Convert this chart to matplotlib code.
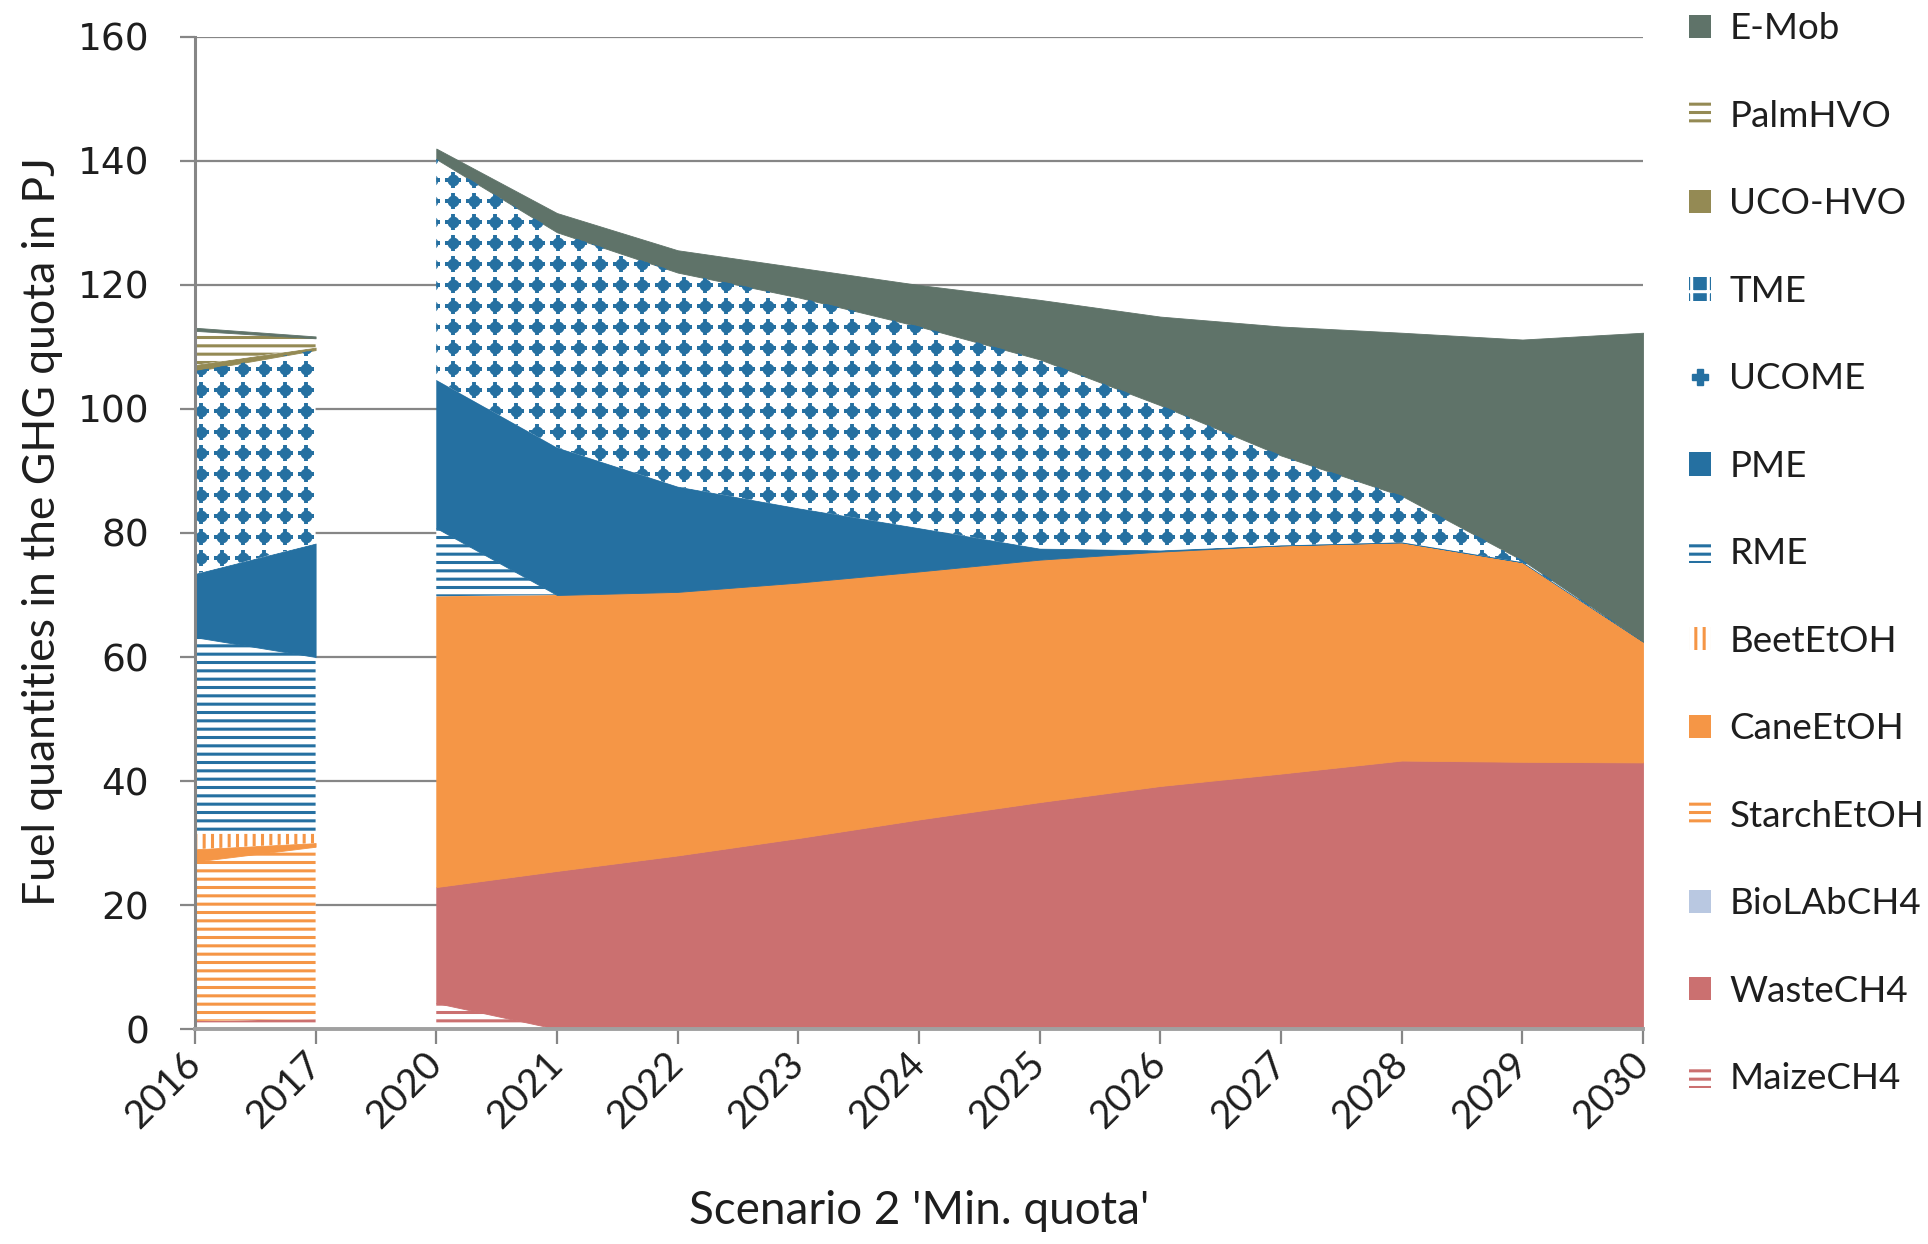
import numpy as np
import matplotlib.pyplot as plt
from matplotlib.patches import Patch
from matplotlib.lines import Line2D

# Categories (gap between 2017 and 2020 is left empty)
years = ['2016', '2017', '2020', '2021', '2022', '2023', '2024',
         '2025', '2026', '2027', '2028', '2029', '2030']
segments = [[0, 1], [2, 3, 4, 5, 6, 7, 8, 9, 10, 11, 12]]

# Fuel quantities in PJ, stacked bottom -> top
maize_ch4 = [1.3, 1.6, 4.2, 0, 0, 0, 0, 0, 0, 0, 0, 0, 0]
waste_ch4 = [0, 0, 18.7, 25.5, 28.0, 30.8, 33.8, 36.6, 39.2, 41.2, 43.3, 43.1, 43.0]
biolab_ch4 = [0, 0, 0, 0, 0, 0, 0, 0, 0, 0, 0, 0, 0]
starch_etoh = [25.7, 27.8, 0, 0, 0, 0, 0, 0, 0, 0, 0, 0, 0]
cane_etoh = [2.0, 0.6, 46.9, 44.5, 42.5, 41.2, 40.0, 39.1, 37.8, 36.8, 35.2, 32.2, 19.5]
beet_etoh = [2.5, 1.5, 0, 0, 0, 0, 0, 0, 0, 0, 0, 0, 0]
rme = [31.7, 28.5, 11.0, 0, 0, 0, 0, 0, 0, 0, 0, 0, 0]
pme = [10.2, 18.3, 23.9, 23.8, 17.0, 12.0, 7.0, 1.8, 0.2, 0, 0, 0, 0]
ucome = [32.7, 31.2, 35.6, 34.7, 34.5, 34.0, 32.5, 30.5, 23.4, 14.5, 7.5, 0.3, 0]
tme = [0, 0, 0, 0, 0, 0, 0, 0, 0, 0, 0, 0, 0]
uco_hvo = [1.0, 0.4, 0, 0, 0, 0, 0, 0, 0, 0, 0, 0, 0]
palm_hvo = [5.5, 1.5, 0, 0, 0, 0, 0, 0, 0, 0, 0, 0, 0]
e_mob = [0.5, 0.3, 1.7, 3.1, 3.6, 4.8, 6.7, 9.6, 14.3, 20.8, 26.3, 35.6, 49.8]

layers = [('MaizeCH4', maize_ch4), ('WasteCH4', waste_ch4),
          ('BioLAbCH4', biolab_ch4), ('StarchEtOH', starch_etoh),
          ('CaneEtOH', cane_etoh), ('BeetEtOH', beet_etoh),
          ('RME', rme), ('PME', pme), ('UCOME', ucome), ('TME', tme),
          ('UCO-HVO', uco_hvo), ('PalmHVO', palm_hvo), ('E-Mob', e_mob)]

blue = '#2570A1'
orange = '#F59646'
olive = '#948A54'
red = '#CB7070'
styles = {
    'MaizeCH4': (red, '--'),
    'WasteCH4': (red, None),
    'BioLAbCH4': ('#B9C8E1', None),
    'StarchEtOH': (orange, '--'),
    'CaneEtOH': (orange, None),
    'BeetEtOH': (orange, '||'),
    'RME': (blue, '--'),
    'PME': (blue, None),
    'UCOME': (blue, 'dots'),
    'TME': (blue, 'grid'),
    'UCO-HVO': (olive, None),
    'PalmHVO': (olive, '--'),
    'E-Mob': ('#5F7369', None),
}
grid_col = '#868686'
text_col = '#1E1E1E'

plt.rcParams['hatch.linewidth'] = 2.2

fig = plt.figure(figsize=(19.28, 12.44), dpi=100)
ax = fig.add_axes([0.1011, 0.1728, 0.7511, 0.7975])
x = np.arange(len(years))
ax.set_xlim(0, len(years) - 1)
ax.set_ylim(0, 160)

# pixel size of the dot texture
ax_w_px = 0.7511 * 1928
ax_h_px = 0.7975 * 1244
step = 21
dx = step / (ax_w_px / (len(years) - 1))
dy = step / (ax_h_px / 160)
gx, gy = np.meshgrid(np.arange(0.05, len(years), dx), np.arange(1.5, 165, dy))
gx, gy = gx.ravel(), gy.ravel()

bottom = np.zeros(len(years))
for name, vals in layers:
    vals = np.asarray(vals, dtype=float)
    top = bottom + vals
    color, hatch = styles[name]
    for seg in segments:
        if vals[seg].max() <= 0:
            continue
        xs, lo, hi = x[seg], bottom[seg], top[seg]
        if hatch is None:
            ax.fill_between(xs, lo, hi, facecolor=color, edgecolor=color, lw=0.6)
        elif hatch == 'dots':
            poly = ax.fill_between(xs, lo, hi, facecolor='white', lw=0)
            clip = poly.get_paths()[0]
            for mk, ms, mew in [('o', 8.5, 0), ('+', 12, 2.8)]:
                pts, = ax.plot(gx, gy, ls='none', marker=mk, ms=ms, mew=mew,
                               color=color, zorder=2)
                pts.set_clip_path(clip, ax.transData)
        else:
            plt.rcParams['hatch.color'] = color
            ax.fill_between(xs, lo, hi, facecolor='white', edgecolor=color,
                            hatch=hatch, lw=0)
    bottom = top

# axes styling
ax.set_axisbelow(True)
ax.yaxis.grid(True, color=grid_col, lw=1.6)
for s in ['top', 'right']:
    ax.spines[s].set_visible(False)
ax.spines['left'].set_color(grid_col)
ax.spines['left'].set_linewidth(2.2)
ax.spines['bottom'].set_color('#A0A0A0')
ax.spines['bottom'].set_linewidth(2.8)

ax.set_yticks(np.arange(0, 161, 20))
ax.tick_params(axis='y', length=11, width=1.6, color=grid_col, pad=22,
               labelsize=27, labelcolor=text_col)
ax.set_xticks(x)
ax.set_xticklabels(years, rotation=45, ha='right', va='center',
                   rotation_mode='anchor', fontsize=28, family='Lato',
                   color=text_col)
ax.tick_params(axis='x', length=11, width=1.6, color=grid_col, pad=10)

ax.set_ylabel('Fuel quantities in the GHG quota in PJ', fontsize=32,
              family='Lato', color=text_col)
ax.yaxis.set_label_coords(-0.091, 0.502)
ax.set_xlabel("Scenario 2 'Min. quota'", fontsize=33, family='Lato',
              color=text_col)
ax.xaxis.set_label_coords(0.5, -0.162)

# legend, top entry first
handles = []
for name, _ in reversed(layers):
    color, hatch = styles[name]
    if hatch is None:
        h = Patch(facecolor=color, edgecolor=color, lw=0)
    elif hatch == 'dots':
        h = Line2D([], [], ls='none', marker='P', ms=11, color=color)
    elif hatch == 'grid':
        plt.rcParams['hatch.color'] = 'white'
        h = Patch(facecolor=color, edgecolor='white', hatch='+', lw=0)
    else:
        h = Patch(facecolor='white', edgecolor=color, hatch=hatch, lw=0)
    handles.append((h, name))
fig.legend([h for h, _ in handles], [n for _, n in handles],
           loc='upper left', bbox_to_anchor=(0.876, 0.99), frameon=False,
           borderpad=0, borderaxespad=0, handlelength=0.6, handleheight=0.6,
           handletextpad=0.5, labelspacing=1.48,
           prop={'family': 'Lato', 'size': 26.5}, labelcolor=text_col)

fig.savefig('out.png', dpi=100, facecolor='white')
